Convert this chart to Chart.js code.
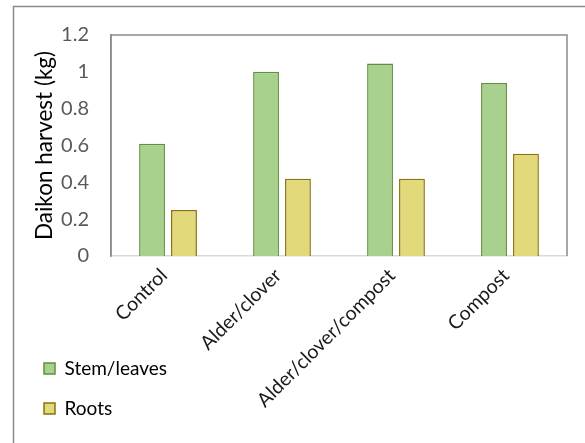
<!DOCTYPE html>
<html lang="en">
<head>
    <meta charset="UTF-8">
    <title>Daikon harvest</title>
    <style>
        body {
            margin: 0;
            background: #fff;
        }
        .chart-box {
            position: relative;
            width: 585px;
            height: 443px;
        }
    </style>
</head>
<body>

<div class="chart-box">
    <canvas id="harvestChart" width="585" height="443"></canvas>
</div>

<script src="https://cdn.jsdelivr.net/npm/chart.js"></script>
<script>
    // values
    const treatments = ['Control', 'Alder/clover', 'Alder/clover/compost', 'Compost'];
    const stemLeaves = [0.61, 1.0, 1.045, 0.94];
    const roots = [0.25, 0.42, 0.42, 0.555];
    const yTicks = [0, 0.2, 0.4, 0.6, 0.8, 1, 1.2];

    const fontName = 'Lato, "Open Sans", sans-serif';

    // gray frame around the plot area + the outer chart frame (cropped on right/bottom)
    const frames = {
        id: 'frames',
        beforeDatasetsDraw(chart) {
            const {ctx, chartArea: a} = chart;
            ctx.save();
            ctx.strokeStyle = '#8c8c8c';
            ctx.lineWidth = 1.5;
            ctx.beginPath();
            ctx.moveTo(a.left, a.bottom);
            ctx.lineTo(a.left, a.top);
            ctx.lineTo(a.right, a.top);
            ctx.lineTo(a.right, a.bottom);
            ctx.stroke();
            ctx.beginPath();
            ctx.moveTo(13.5, chart.height);
            ctx.lineTo(13.5, 6.5);
            ctx.lineTo(chart.width, 6.5);
            ctx.stroke();
            ctx.restore();
        }
    };

    // move the legend to the lower left corner, stacked
    const legendSpot = {
        id: 'legendSpot',
        beforeDraw(chart) {
            const lg = chart.legend;
            lg.left = 23;
            lg.top = 338;
            lg.right = 230;
            lg.bottom = 443;
            lg.width = lg.right - lg.left;
            lg.height = lg.bottom - lg.top;
        }
    };

    const ctx = document.getElementById('harvestChart').getContext('2d');
    new Chart(ctx, {
        type: 'bar',
        data: {
            labels: treatments,
            datasets: [{
                label: 'Stem/leaves',
                data: stemLeaves,
                backgroundColor: '#a9d18e',
                borderColor: '#5f913a',
                borderWidth: 1.5
            }, {
                label: 'Roots',
                data: roots,
                backgroundColor: '#e2d97a',
                borderColor: '#8c710f',
                borderWidth: 1.5
            }]
        },
        options: {
            responsive: false,
            animation: false,
            devicePixelRatio: 1,
            layout: {
                padding: {left: 0, top: 35, right: 18, bottom: 0}
            },
            datasets: {
                bar: {
                    categoryPercentage: 0.56,
                    barPercentage: 0.81
                }
            },
            scales: {
                x: {
                    grid: {display: false},
                    border: {color: '#d9d9d9', width: 1.5},
                    ticks: {
                        minRotation: 45,
                        maxRotation: 45,
                        padding: 0,
                        labelOffset: -4,
                        color: '#1a1a1a',
                        font: {family: fontName, size: 19.5}
                    },
                    afterFit(scale) {
                        scale.height = 187;
                    }
                },
                y: {
                    min: 0,
                    max: 1.2,
                    afterBuildTicks(scale) {
                        scale.ticks = yTicks.map(v => ({value: v}));
                    },
                    grid: {display: false, drawTicks: false},
                    border: {color: '#8c8c8c', width: 1.5},
                    ticks: {
                        padding: 22,
                        color: '#595959',
                        font: {family: fontName, size: 20},
                        callback: v => String(v)
                    },
                    title: {
                        display: true,
                        text: 'Daikon harvest (kg)',
                        color: '#000',
                        font: {family: fontName, size: 22.5},
                        padding: {top: 31, bottom: 0}
                    },
                    afterFit(scale) {
                        scale.width = 111;
                    }
                }
            },
            plugins: {
                legend: {
                    position: 'chartArea',
                    align: 'start',
                    labels: {
                        boxWidth: 11,
                        boxHeight: 11,
                        padding: 21,
                        color: '#000',
                        font: {family: fontName, size: 19}
                    }
                },
                tooltip: {enabled: false}
            }
        },
        plugins: [frames, legendSpot]
    });
</script>

</body>
</html>
